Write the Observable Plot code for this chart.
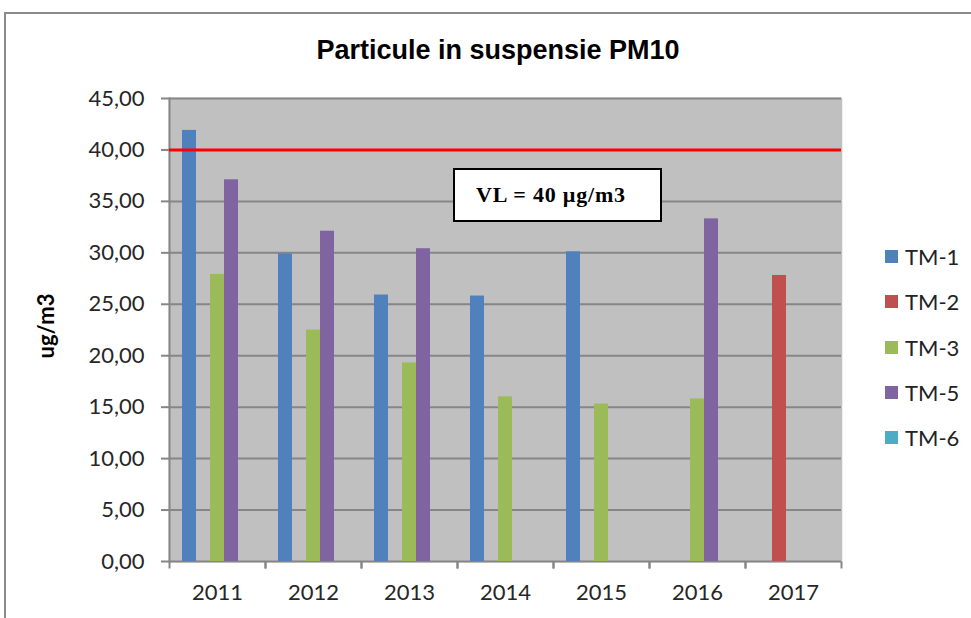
<!DOCTYPE html>
<html><head><meta charset="utf-8">
<script src="https://cdn.jsdelivr.net/npm/d3@7"></script>
<script src="https://cdn.jsdelivr.net/npm/@observablehq/plot@0.6"></script>
<style>
body{margin:0;background:#fff;}
#wrap{position:relative;width:971px;height:618px;overflow:hidden;font-family:Lato,sans-serif;color:#222;}
#border{position:absolute;left:4px;top:12px;width:1000px;height:700px;border-left:2px solid #8a8a8a;border-top:2px solid #8a8a8a;}
#chart{position:absolute;left:0;top:0;}
#title{position:absolute;left:0;width:996px;top:37px;text-align:center;font:bold 27px "Liberation Sans",Arial,sans-serif;line-height:27px;color:#000;}
#ylab{position:absolute;left:45px;top:326px;transform:translate(-50%,-50%) rotate(-90deg);font:bold 22px Lato,sans-serif;white-space:nowrap;color:#000;}
#legend{position:absolute;left:885px;top:234px;}
.item{display:flex;align-items:center;height:45.3px;font:22px Lato,sans-serif;color:#222;}
.sw{width:13px;height:13px;margin-right:7px;}
#vl{position:absolute;left:453px;top:168px;width:209px;height:54px;box-sizing:border-box;border:2px solid #000;background:#fff;display:flex;align-items:center;padding-left:21px;font:bold 22px "Liberation Serif","Times New Roman",serif;letter-spacing:0.8px;white-space:nowrap;color:#000;}
</style></head>
<body>
<div id="wrap">
  <div id="border"></div>
  <div id="chart"></div>
  <div id="title"></div>
  <div id="ylab"></div>
  <div id="legend"></div>
  <div id="vl"></div>
</div>
<script>
const titleText = "Particule in suspensie PM10";
const yLabel = "ug/m3";
const limitText = "VL = 40 µg/m3";
const years = ["2011", "2012", "2013", "2014", "2015", "2016", "2017"];
const series = ["TM-1", "TM-2", "TM-3", "TM-5", "TM-6"];
const tm1 = [41.9, 29.9, 25.9, 25.8, 30.1, null, null];
const tm2 = [null, null, null, null, null, null, 27.8];
const tm3 = [27.9, 22.5, 19.3, 16.0, 15.3, 15.8, null];
const tm5 = [37.1, 32.1, 30.4, null, null, 33.3, null];
const tm6 = [null, null, null, null, null, null, null];
const colors = ["#4F81BD", "#C0504D", "#9BBB59", "#8064A2", "#4BACC6"];
const yTicks = [0, 5, 10, 15, 20, 25, 30, 35, 40, 45];
const limit = 40;

const valuesBySeries = [tm1, tm2, tm3, tm5, tm6];
const data = [];
series.forEach((s, i) => valuesBySeries[i].forEach((v, j) => {
  if (v != null) data.push({year: years[j], series: s, value: v});
}));

const gridColor = "#868686";
const tickSymbol = {draw(ctx) { ctx.moveTo(0, 0); ctx.lineTo(0, 7); }};

const chart = Plot.plot({
  width: 971,
  height: 618,
  marginTop: 98,
  marginBottom: 57,
  marginLeft: 168,
  marginRight: 129,
  style: {fontFamily: "Lato, sans-serif", background: "transparent", overflow: "visible"},
  fx: {domain: years, padding: 0},
  x: {domain: series, paddingInner: 0, paddingOuter: 0.78, axis: null},
  y: {domain: [0, 45]},
  color: {domain: series, range: colors},
  marks: [
    Plot.frame({fill: "#C0C0C0", stroke: "#C0C0C0", strokeWidth: 1.5}),
    Plot.gridY(yTicks, {stroke: gridColor, strokeOpacity: 1, strokeWidth: 2}),
    Plot.frame({anchor: "left", fx: years[0], stroke: gridColor, strokeWidth: 2}),
    Plot.dot([0], {frameAnchor: "bottom-left", symbol: tickSymbol, stroke: gridColor, strokeWidth: 2, fill: "none"}),
    Plot.dot([0], {frameAnchor: "bottom-right", symbol: tickSymbol, stroke: gridColor, strokeWidth: 2, fill: "none"}),
    Plot.barY(data, {fx: "year", x: "series", y: "value", fill: "series", inset: 0}),
    Plot.ruleY([limit], {stroke: "#FF0000", strokeWidth: 3}),
    Plot.axisY({ticks: yTicks, tickSize: 8, tickPadding: 17, stroke: gridColor, strokeWidth: 2,
      tickFormat: d => d.toFixed(2).replace(".", ","), fontSize: 22, fill: "#262626", label: null}),
    Plot.axisFx({anchor: "bottom", tickSize: 0, tickPadding: 23, fontSize: 22, fill: "#262626", label: null})
  ]
});
document.getElementById("chart").appendChild(chart);
document.getElementById("title").textContent = titleText;
document.getElementById("ylab").textContent = yLabel;
document.getElementById("vl").textContent = limitText;
const legend = document.getElementById("legend");
series.forEach((s, i) => {
  const item = document.createElement("div");
  item.className = "item";
  const sw = document.createElement("div");
  sw.className = "sw";
  sw.style.background = colors[i];
  const t = document.createElement("span");
  t.textContent = s;
  item.appendChild(sw); item.appendChild(t);
  legend.appendChild(item);
});
</script>
</body></html>
